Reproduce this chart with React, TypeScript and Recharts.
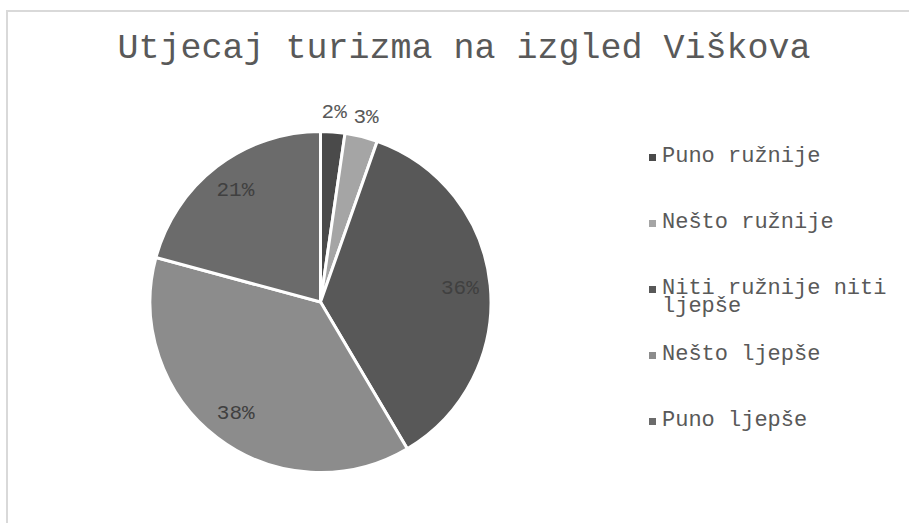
// Pie of survey answers: how tourism changed the look of Viškovo.
import { Cell, Legend, Pie, PieChart } from "recharts";

const title = "Utjecaj turizma na izgled Viškova";
const answers = ["Puno ružnije", "Nešto ružnije", "Niti ružnije niti ljepše", "Nešto ljepše", "Puno ljepše"];
const shares = [2.3, 3.1, 36.1, 37.7, 20.8];
const fills = ["#4a4a4a", "#a5a5a5", "#585858", "#8c8c8c", "#6b6b6b"];

const data = answers.map((name, i) => ({ name, value: shares[i] }));

const FONT = "'Liberation Mono', 'Courier New', monospace";
const RAD = Math.PI / 180;

function SliceLabel(props: any) {
  const { cx, cy, midAngle, percent } = props;
  const outside = percent < 0.05;
  const r = outside ? 190 : 140;
  const x = cx + r * Math.cos(-midAngle * RAD);
  const y = cy + r * Math.sin(-midAngle * RAD);
  return (
    <text
      x={x}
      y={y}
      textAnchor="middle"
      dominantBaseline="central"
      fill={outside ? "#595959" : "#404040"}
      fontFamily={FONT}
      fontSize={21}
    >
      {`${Math.round(percent * 100)}%`}
    </text>
  );
}

function LegendList({ payload }: any) {
  // keep the series order, not the legend's alphabetical one
  const items = [...(payload ?? [])].sort(
    (a: any, b: any) => answers.indexOf(a.value) - answers.indexOf(b.value),
  );
  return (
    <div style={{ fontFamily: FONT, fontSize: 22, lineHeight: "18px", color: "#595959" }}>
      {items.map((p: any) => (
        <div key={p.value} style={{ height: 66, display: "flex", alignItems: "flex-start" }}>
          <span
            style={{
              width: 7,
              height: 7,
              marginTop: 6,
              marginRight: 6,
              flex: "0 0 7px",
              background: p.color,
            }}
          />
          <span style={{ width: 236 }}>{p.value}</span>
        </div>
      ))}
    </div>
  );
}

export default function App() {
  return (
    <div style={{ position: "absolute", left: 0, top: 0, width: 909, height: 523, overflow: "hidden", background: "#fff" }}>
      <div
        style={{
          position: "absolute",
          left: 6,
          top: 10,
          width: 940,
          height: 560,
          border: "2px solid #d9d9d9",
        }}
      />
      <div
        style={{
          position: "absolute",
          left: 0,
          top: 32,
          width: 928,
          textAlign: "center",
          fontFamily: FONT,
          fontSize: 35,
          lineHeight: "35px",
          color: "#595959",
          whiteSpace: "nowrap",
        }}
      >
        {title}
      </div>
      <PieChart
        width={909}
        height={523}
        margin={{ top: 0, right: 0, bottom: 0, left: 0 }}
        style={{ position: "absolute", left: 0, top: 0 }}
      >
        <Pie
          data={data}
          dataKey="value"
          nameKey="name"
          cx={320.5}
          cy={302}
          outerRadius={170.5}
          startAngle={90}
          endAngle={-270}
          stroke="#ffffff"
          strokeWidth={3}
          label={SliceLabel}
          labelLine={false}
          isAnimationActive={false}
        >
          {data.map((d, i) => (
            <Cell key={d.name} fill={fills[i]} />
          ))}
        </Pie>
        <Legend
          layout="vertical"
          align="right"
          verticalAlign="top"
          content={LegendList}
          wrapperStyle={{ position: "absolute", left: 649, top: 148, width: 255 }}
        />
      </PieChart>
    </div>
  );
}
